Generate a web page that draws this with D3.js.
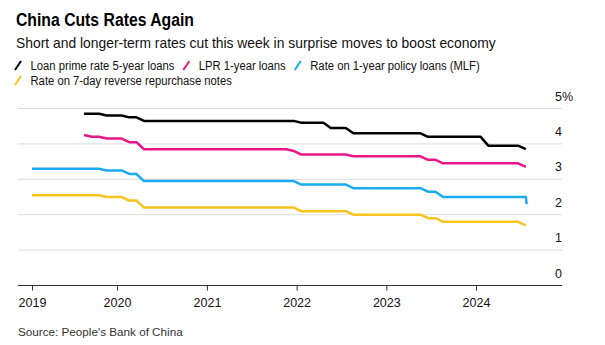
<!DOCTYPE html>
<html>
<head>
<meta charset="utf-8">
<script src="https://cdn.jsdelivr.net/npm/d3@7"></script>
<style>
  body { margin: 0; background: #fff; }
  svg { display: block; font-family: "Liberation Sans", Arial, sans-serif; }
</style>
</head>
<body>
<svg id="chart" width="605" height="345"></svg>
<script>
// series data: [date, rate %], points where the monthly line changes direction
var lpr5y = [
  ["2019-08-20", 4.85], ["2019-10-20", 4.85], ["2019-11-20", 4.80], ["2020-01-20", 4.80],
  ["2020-02-20", 4.75], ["2020-03-20", 4.75], ["2020-04-20", 4.65], ["2021-12-20", 4.65],
  ["2022-01-20", 4.60], ["2022-04-20", 4.60], ["2022-05-20", 4.45], ["2022-07-20", 4.45],
  ["2022-08-20", 4.30], ["2023-05-20", 4.30], ["2023-06-20", 4.20], ["2024-01-20", 4.20],
  ["2024-02-20", 3.95], ["2024-06-20", 3.95], ["2024-07-22", 3.85]
];
var lpr1y = [
  ["2019-08-20", 4.25], ["2019-09-20", 4.20], ["2019-10-20", 4.20], ["2019-11-20", 4.15],
  ["2020-01-20", 4.15], ["2020-02-20", 4.05], ["2020-03-20", 4.05], ["2020-04-20", 3.85],
  ["2021-11-20", 3.85], ["2021-12-20", 3.80], ["2022-01-20", 3.70], ["2022-07-20", 3.70],
  ["2022-08-20", 3.65], ["2023-05-20", 3.65], ["2023-06-20", 3.55], ["2023-07-20", 3.55],
  ["2023-08-20", 3.45], ["2024-06-20", 3.45], ["2024-07-22", 3.35]
];
var mlf1y = [
  ["2019-01-20", 3.30], ["2019-10-20", 3.30], ["2019-11-20", 3.25], ["2020-01-20", 3.25],
  ["2020-02-20", 3.15], ["2020-03-20", 3.15], ["2020-04-20", 2.95], ["2021-12-20", 2.95],
  ["2022-01-20", 2.85], ["2022-07-20", 2.85], ["2022-08-20", 2.75], ["2023-05-20", 2.75],
  ["2023-06-20", 2.65], ["2023-07-20", 2.65], ["2023-08-20", 2.50], ["2024-07-22", 2.50],
  ["2024-07-25", 2.30]
];
var repo7d = [
  ["2019-01-20", 2.55], ["2019-10-20", 2.55], ["2019-11-20", 2.50], ["2020-01-20", 2.50],
  ["2020-02-20", 2.40], ["2020-03-20", 2.40], ["2020-04-20", 2.20], ["2021-12-20", 2.20],
  ["2022-01-20", 2.10], ["2022-07-20", 2.10], ["2022-08-20", 2.00], ["2023-05-20", 2.00],
  ["2023-06-20", 1.90], ["2023-07-20", 1.90], ["2023-08-20", 1.80], ["2024-06-20", 1.80],
  ["2024-07-22", 1.70]
];

var seriesNames = [
  "Loan prime rate 5-year loans",
  "LPR 1-year loans",
  "Rate on 1-year policy loans (MLF)",
  "Rate on 7-day reverse repurchase notes"
];
var seriesColors = ["#000000", "#e8168a", "#1aabf0", "#f9c31d"];
var yTicks = [0, 1, 2, 3, 4, 5];
var xYears = [2019, 2020, 2021, 2022, 2023, 2024];

var parse = d3.timeParse("%Y-%m-%d");
var series = [lpr5y, lpr1y, mlf1y, repo7d].map(function (s, i) {
  return {
    name: seriesNames[i],
    color: seriesColors[i],
    values: s.map(function (d) { return { date: parse(d[0]), value: d[1] }; })
  };
});

var svg = d3.select("#chart");
var plotLeft = 18, plotRight = 562;

var x = d3.scaleTime()
  .domain([new Date(2019, 0, 1), new Date(2024, 0, 1)])
  .range([27.3, 476]);
var y = d3.scaleLinear().domain([0, 5]).range([285.5, 108.5]);

// the original face is narrower than Liberation Sans, so squeeze the text a bit
function condense(sel, factor) {
  var w = sel.node().getComputedTextLength();
  sel.attr("textLength", w * factor).attr("lengthAdjust", "spacingAndGlyphs");
  return w * factor;
}

// title block
svg.append("text").attr("x", 16).attr("y", 26)
  .attr("font-size", 18).attr("font-weight", "bold").attr("fill", "#000")
  .text("China Cuts Rates Again")
  .call(condense, 0.875);
svg.append("text").attr("x", 16).attr("y", 48)
  .attr("font-size", 15).attr("fill", "#111")
  .text("Short and longer-term rates cut this week in surprise moves to boost economy")
  .call(condense, 0.925);

// legend, wraps onto a second row
var lx = 15, ly = 70;
series.forEach(function (s) {
  var g = svg.append("g");
  var t = g.append("text").attr("font-size", 12.5).attr("fill", "#111").text(s.name);
  var w = condense(t, 0.9);
  if (lx + 15 + w > 595) { lx = 15; ly += 15; }
  g.append("line")
    .attr("x1", lx).attr("y1", ly).attr("x2", lx + 6).attr("y2", ly - 9)
    .attr("stroke", s.color).attr("stroke-width", 2);
  t.attr("x", lx + 15.5).attr("y", ly);
  lx += 15.5 + w + 9;
});

// gridlines and value labels
svg.append("g").selectAll("line").data(yTicks.slice(1)).enter().append("line")
  .attr("x1", plotLeft).attr("x2", plotRight)
  .attr("y1", function (d) { return y(d); }).attr("y2", function (d) { return y(d); })
  .attr("stroke", "#dcdcdc").attr("stroke-width", 1);

svg.append("g").selectAll("text").data(yTicks).enter().append("text")
  .attr("x", 555).attr("y", function (d) { return y(d) - 8; })
  .attr("font-size", 12.5).attr("fill", "#111")
  .text(function (d) { return d === 5 ? d + "%" : d; });

// x axis: first tick sits at the first observation
var tickDates = xYears.map(function (yr, i) {
  return i === 0 ? series[2].values[0].date : new Date(yr, 0, 1);
});
var xAxis = d3.axisBottom(x).tickValues(tickDates).tickSize(5).tickPadding(8)
  .tickFormat(d3.timeFormat("%Y"));
var ax = svg.append("g").attr("transform", "translate(0," + y(0) + ")").call(xAxis);
ax.select(".domain").remove();
ax.selectAll(".tick line").attr("stroke", "#333");
ax.selectAll(".tick text").attr("font-size", 12.5).attr("fill", "#111")
  .attr("font-family", "Liberation Sans, Arial, sans-serif");
svg.append("line").attr("x1", plotLeft).attr("x2", plotRight)
  .attr("y1", y(0)).attr("y2", y(0)).attr("stroke", "#333").attr("stroke-width", 1);

// rate lines
var line = d3.line()
  .x(function (d) { return x(d.date); })
  .y(function (d) { return y(d.value); });

svg.append("g").selectAll("path").data(series).enter().append("path")
  .attr("d", function (d) { return line(d.values); })
  .attr("fill", "none")
  .attr("stroke", function (d) { return d.color; })
  .attr("stroke-width", 2.5)
  .attr("stroke-linejoin", "round");

svg.append("text").attr("x", 18).attr("y", 335.5)
  .attr("font-size", 11.7).attr("fill", "#333")
  .text("Source: People's Bank of China");
</script>
</body>
</html>
